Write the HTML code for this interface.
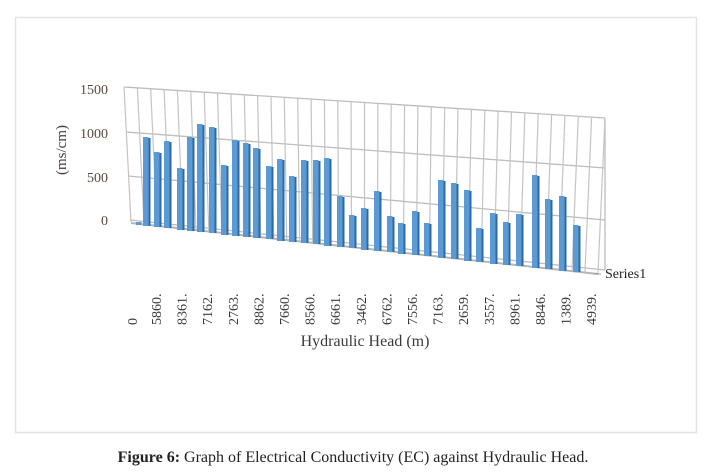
<!DOCTYPE html>
<html><head><meta charset="utf-8"><style>
html,body{margin:0;padding:0;background:#fff;}
svg{display:block;font-family:"Liberation Serif",serif;}
.f{fill:#5b9bd5;width:5.5px;transform:translateX(1px)}
.s{fill:#2f6aa3;width:2px;transform:translateX(-1.5px)}
</style></head><body>
<svg width="706" height="474" viewBox="0 0 706 474" xmlns="http://www.w3.org/2000/svg">
<rect x="15.5" y="17.5" width="681" height="415" fill="#fff" stroke="#e4e4e4" stroke-width="1.5"/>
<g stroke="#bdbdbd" stroke-width="1.3" fill="none">
<line x1="124" y1="87" x2="605" y2="118"/>
<line x1="126" y1="132" x2="605" y2="168"/>
<line x1="128" y1="176" x2="605" y2="220"/>
<line x1="130" y1="220" x2="605" y2="270"/>
<line x1="605" y1="118" x2="605" y2="270"/>
</g>
<path stroke="#c4c4c4" stroke-width="1.2" fill="none" d="M124,87L131,222M137.4,87.9L144,223.4M150.7,88.7L156.9,224.8M164.1,89.6L169.9,226.3M177.4,90.4L182.9,227.7M190.8,91.3L195.9,229.1M204.2,92.2L208.8,230.5M217.5,93L221.8,231.9M230.9,93.9L234.8,233.3M244.3,94.7L247.7,234.8M257.6,95.6L260.7,236.2M271,96.5L273.7,237.6M284.3,97.3L286.7,239M297.7,98.2L299.6,240.4M311.1,99.1L312.6,241.8M324.4,99.9L325.6,243.3M337.8,100.8L338.6,244.7M351.1,101.6L351.5,246.1M364.5,102.5L364.5,247.5M377.9,103.4L377.5,248.9M391.2,104.2L390.4,250.3M404.6,105.1L403.4,251.8M417.9,105.9L416.4,253.2M431.3,106.8L429.4,254.6M444.7,107.7L442.3,256M458,108.5L455.3,257.4M471.4,109.4L468.3,258.8M484.8,110.3L481.2,260.3M498.1,111.1L494.2,261.7M511.5,112L507.2,263.1M524.8,112.8L520.2,264.5M538.2,113.7L533.1,265.9M551.6,114.6L546.1,267.3M564.9,115.4L559.1,268.8M578.3,116.3L572,270.2M591.6,117.1L585,271.6M605,118L598,273"/>
<line x1="131" y1="223" x2="598" y2="274" stroke="#b5b5b5" stroke-width="2"/>
<g>
<rect class="f" x="135" y="222" width="8" height="3"/>
<rect class="f" x="142" y="137" width="8" height="89"/><rect class="s" x="150" y="138" width="2.5" height="88"/>
<rect class="f" x="153" y="152" width="8" height="75"/><rect class="s" x="161" y="153" width="2.5" height="74"/>
<rect class="f" x="163" y="141" width="8" height="87"/><rect class="s" x="171" y="142" width="2.5" height="86"/>
<rect class="f" x="176" y="168" width="8" height="62"/><rect class="s" x="184" y="169" width="2.5" height="61"/>
<rect class="f" x="186" y="137" width="8" height="94"/><rect class="s" x="194" y="138" width="2.5" height="93"/>
<rect class="f" x="196" y="124" width="8" height="108"/><rect class="s" x="204" y="125" width="2.5" height="107"/>
<rect class="f" x="208" y="127" width="8" height="106"/><rect class="s" x="216" y="128" width="2.5" height="105"/>
<rect class="f" x="220" y="165" width="8" height="70"/><rect class="s" x="228" y="166" width="2.5" height="69"/>
<rect class="f" x="231" y="140" width="8" height="96"/><rect class="s" x="239" y="141" width="2.5" height="95"/>
<rect class="f" x="242" y="143" width="8" height="94"/><rect class="s" x="250" y="144" width="2.5" height="93"/>
<rect class="f" x="252" y="148" width="8" height="90"/><rect class="s" x="260" y="149" width="2.5" height="89"/>
<rect class="f" x="265" y="166" width="8" height="73"/><rect class="s" x="273" y="167" width="2.5" height="72"/>
<rect class="f" x="276" y="159" width="8" height="82"/><rect class="s" x="284" y="160" width="2.5" height="81"/>
<rect class="f" x="288" y="176" width="8" height="66"/><rect class="s" x="296" y="177" width="2.5" height="65"/>
<rect class="f" x="300" y="160" width="8" height="83"/><rect class="s" x="308" y="161" width="2.5" height="82"/>
<rect class="f" x="312" y="160" width="8" height="84"/><rect class="s" x="320" y="161" width="2.5" height="83"/>
<rect class="f" x="323" y="158" width="8" height="88"/><rect class="s" x="331" y="159" width="2.5" height="87"/>
<rect class="f" x="336" y="196" width="8" height="51"/><rect class="s" x="344" y="197" width="2.5" height="50"/>
<rect class="f" x="348" y="215" width="8" height="33"/><rect class="s" x="356" y="216" width="2.5" height="32"/>
<rect class="f" x="360" y="208" width="8" height="42"/><rect class="s" x="368" y="209" width="2.5" height="41"/>
<rect class="f" x="373" y="191" width="8" height="60"/><rect class="s" x="381" y="192" width="2.5" height="59"/>
<rect class="f" x="386" y="216" width="8" height="36"/><rect class="s" x="394" y="217" width="2.5" height="35"/>
<rect class="f" x="397" y="223" width="8" height="31"/><rect class="s" x="405" y="224" width="2.5" height="30"/>
<rect class="f" x="411" y="211" width="8" height="44"/><rect class="s" x="419" y="212" width="2.5" height="43"/>
<rect class="f" x="423" y="223" width="8" height="33"/><rect class="s" x="431" y="224" width="2.5" height="32"/>
<rect class="f" x="437" y="180" width="8" height="78"/><rect class="s" x="445" y="181" width="2.5" height="77"/>
<rect class="f" x="450" y="183" width="8" height="76"/><rect class="s" x="458" y="184" width="2.5" height="75"/>
<rect class="f" x="463" y="190" width="8" height="71"/><rect class="s" x="471" y="191" width="2.5" height="70"/>
<rect class="f" x="475" y="228" width="8" height="34"/><rect class="s" x="483" y="229" width="2.5" height="33"/>
<rect class="f" x="489" y="213" width="8" height="51"/><rect class="s" x="497" y="214" width="2.5" height="50"/>
<rect class="f" x="502" y="222" width="8" height="43"/><rect class="s" x="510" y="223" width="2.5" height="42"/>
<rect class="f" x="515" y="214" width="8" height="52"/><rect class="s" x="523" y="215" width="2.5" height="51"/>
<rect class="f" x="531" y="175" width="8" height="93"/><rect class="s" x="539" y="176" width="2.5" height="92"/>
<rect class="f" x="544" y="199" width="8" height="70"/><rect class="s" x="552" y="200" width="2.5" height="69"/>
<rect class="f" x="558" y="196" width="8" height="75"/><rect class="s" x="566" y="197" width="2.5" height="74"/>
<rect class="f" x="572" y="225" width="8" height="47"/><rect class="s" x="580" y="226" width="2.5" height="46"/>
</g>
<g fill="#5b4a3f" font-size="14" text-anchor="end">
<text x="108" y="94">1500</text>
<text x="108" y="138">1000</text>
<text x="108" y="182">500</text>
<text x="108" y="225">0</text>
</g>
<text transform="translate(66,150) rotate(-90)" font-size="15" fill="#4a3f3a" text-anchor="middle">(ms/cm)</text>
<g font-size="14" fill="#3a3a3a" text-anchor="start">
<text transform="translate(137,325) rotate(-90)">0</text>
<text transform="translate(161,325) rotate(-90)">5860.</text>
<text transform="translate(186.6,325) rotate(-90)">8361.</text>
<text transform="translate(212.2,325) rotate(-90)">7162.</text>
<text transform="translate(237.8,325) rotate(-90)">2763.</text>
<text transform="translate(263.4,325) rotate(-90)">8862.</text>
<text transform="translate(289,325) rotate(-90)">7660.</text>
<text transform="translate(314.6,325) rotate(-90)">8560.</text>
<text transform="translate(340.2,325) rotate(-90)">6661.</text>
<text transform="translate(365.8,325) rotate(-90)">3462.</text>
<text transform="translate(391.4,325) rotate(-90)">6762.</text>
<text transform="translate(417,325) rotate(-90)">7556.</text>
<text transform="translate(442.6,325) rotate(-90)">7163.</text>
<text transform="translate(468.2,325) rotate(-90)">2659.</text>
<text transform="translate(493.8,325) rotate(-90)">3557.</text>
<text transform="translate(519.4,325) rotate(-90)">8961.</text>
<text transform="translate(545,325) rotate(-90)">8846.</text>
<text transform="translate(570.6,325) rotate(-90)">1389.</text>
<text transform="translate(596.2,325) rotate(-90)">4939.</text>
</g>
<text x="365" y="346" font-size="16" fill="#3a3a3a" text-anchor="middle">Hydraulic Head (m)</text>
<line x1="594" y1="274" x2="601" y2="274" stroke="#999"/>
<text x="605" y="278" font-size="14" fill="#222">Series1</text>
<text x="353" y="462" font-size="16" fill="#222" text-anchor="middle"><tspan font-weight="bold">Figure 6:</tspan> Graph of Electrical Conductivity (EC) against Hydraulic Head.</text>
</svg>
</body></html>
